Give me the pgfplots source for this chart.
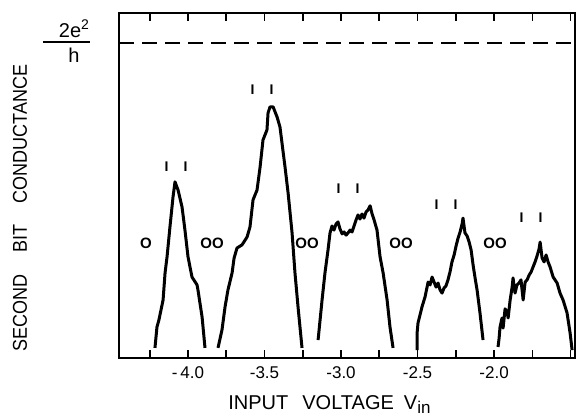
\documentclass[border=0pt]{standalone}
\usepackage{pgfplots}
\pgfplotsset{compat=1.18}
\usepackage{fontspec}
\usepackage{graphicx}
\setmainfont{Liberation Sans}
\begin{document}
\begin{tikzpicture}
\begin{axis}[
  at={(0,0)}, anchor=south west,
  scale only axis,
  width=228pt, height=172.5pt,
  xmin=-4.451, xmax=-1.471,
  ymin=0, ymax=1.095,
  axis line style={line width=1.2pt},
  ytick=\empty,
  xtick={-4,-3.5,-3,-2.5,-2},
  xticklabels={-\,4.0,-3.5,-3.0,-2.5,-2.0},
  minor xtick={-4.25,-3.75,-3.25,-2.75,-2.25,-1.75,-1.5},
  major tick length=4pt, minor tick length=4pt,
  tick style={line width=0.8pt, black},
  tick align=inside,
  xtick pos=both,
  x tick label style={font=\fontsize{8.5}{10}\selectfont, yshift=-1pt},
  clip=false,
]
\addplot[line width=1pt, dash pattern=on 7.5pt off 4pt] coordinates {(-4.451,1) (-1.471,1)};

% peak 1
\addplot[line width=1.5pt, line join=round] coordinates {
(-4.216,0.032) (-4.203,0.098) (-4.190,0.121) (-4.163,0.184) (-4.150,0.270)
(-4.137,0.321) (-4.118,0.416) (-4.098,0.511) (-4.085,0.559) (-4.065,0.533)
(-4.039,0.479) (-4.020,0.406) (-4.000,0.321) (-3.974,0.257) (-3.941,0.232)
(-3.935,0.216) (-3.908,0.130) (-3.889,0.032)};

% peak 2
\addplot[line width=1.5pt, line join=round] coordinates {
(-3.804,0.032) (-3.778,0.089) (-3.758,0.162) (-3.739,0.216) (-3.712,0.270)
(-3.699,0.317) (-3.680,0.349) (-3.647,0.359) (-3.614,0.384) (-3.595,0.416)
(-3.575,0.502) (-3.549,0.533) (-3.529,0.606) (-3.510,0.692) (-3.484,0.724)
(-3.477,0.778) (-3.464,0.797) (-3.444,0.797) (-3.418,0.765) (-3.399,0.733)
(-3.386,0.683) (-3.366,0.606) (-3.346,0.524) (-3.320,0.397) (-3.301,0.270)
(-3.281,0.162) (-3.255,0.032)};

% peak 3
\addplot[line width=1.5pt, line join=round] coordinates {
(-3.150,0.057) (-3.124,0.184) (-3.105,0.270) (-3.085,0.343) (-3.072,0.397)
(-3.059,0.419) (-3.046,0.406) (-3.033,0.425) (-3.020,0.432) (-3.007,0.410)
(-2.993,0.394) (-2.980,0.400) (-2.967,0.390) (-2.954,0.397) (-2.941,0.406)
(-2.928,0.400) (-2.915,0.419) (-2.902,0.438) (-2.889,0.454) (-2.876,0.441)
(-2.863,0.457) (-2.850,0.444) (-2.837,0.463) (-2.824,0.470) (-2.810,0.483)
(-2.797,0.457) (-2.784,0.438) (-2.765,0.406) (-2.745,0.321) (-2.725,0.270)
(-2.699,0.184) (-2.680,0.098) (-2.660,0.032)};

% peak 4
\addplot[line width=1.5pt, line join=round] coordinates {
(-2.503,0.025) (-2.503,0.079) (-2.497,0.111) (-2.471,0.162) (-2.451,0.194)
(-2.431,0.241) (-2.418,0.232) (-2.405,0.257) (-2.392,0.241) (-2.379,0.225)
(-2.366,0.238) (-2.353,0.216) (-2.340,0.206) (-2.327,0.222) (-2.314,0.229)
(-2.301,0.248) (-2.288,0.273) (-2.275,0.305) (-2.261,0.327) (-2.248,0.356)
(-2.235,0.381) (-2.222,0.400) (-2.209,0.425) (-2.203,0.444) (-2.190,0.397)
(-2.176,0.387) (-2.163,0.368) (-2.150,0.343) (-2.137,0.295) (-2.124,0.254)
(-2.111,0.216) (-2.092,0.143) (-2.072,0.057)};

% peak 5
\addplot[line width=1.5pt, line join=round] coordinates {
(-1.974,0.035) (-1.967,0.063) (-1.961,0.098) (-1.948,0.127) (-1.941,0.095)
(-1.928,0.156) (-1.915,0.146) (-1.908,0.127) (-1.895,0.184) (-1.882,0.225)
(-1.876,0.254) (-1.863,0.206) (-1.850,0.232) (-1.837,0.238) (-1.824,0.248)
(-1.810,0.184) (-1.797,0.241) (-1.784,0.248) (-1.771,0.263) (-1.758,0.273)
(-1.745,0.289) (-1.732,0.305) (-1.719,0.324) (-1.706,0.346) (-1.699,0.368)
(-1.686,0.317) (-1.673,0.305) (-1.660,0.327) (-1.647,0.305) (-1.634,0.289)
(-1.614,0.257) (-1.588,0.238) (-1.569,0.206) (-1.549,0.184) (-1.523,0.143)
(-1.503,0.079) (-1.490,0.025)};

% bit annotations
\tikzset{zero/.style={font=\bfseries\fontsize{7.5}{9}\selectfont, inner sep=0pt},
         one/.style={font=\bfseries\fontsize{7}{8}\selectfont, inner sep=0pt}}
\node[zero] at (axis cs:-4.275,0.365) {O};
\node[zero] at (axis cs:-3.843,0.365) {OO};
\node[zero] at (axis cs:-3.222,0.365) {OO};
\node[zero] at (axis cs:-2.608,0.365) {OO};
\node[zero] at (axis cs:-1.993,0.365) {OO};
\node[one] at (axis cs:-4.078,0.606) {I\hspace{7.5pt}I};
\node[one] at (axis cs:-3.516,0.851) {I\hspace{7.5pt}I};
\node[one] at (axis cs:-2.954,0.537) {I\hspace{7.5pt}I};
\node[one] at (axis cs:-2.314,0.486) {I\hspace{7.5pt}I};
\node[one] at (axis cs:-1.758,0.444) {I\hspace{7.5pt}I};
\end{axis}

% axis labels
\node[rotate=90, font=\fontsize{10}{11}\selectfont, inner sep=0pt] at (-49.5pt,75pt)
  {\scalebox{0.9}[1]{SECOND\hspace{12pt}BIT\hspace{12pt}CONDUCTANCE}};
\node[anchor=base west, font=\fontsize{10}{11}\selectfont, inner sep=0pt] at (54.5pt,-26pt)
  {INPUT\hspace{7pt}VOLTAGE\hspace{5pt}V\raisebox{-2pt}{\fontsize{8.5}{9}\selectfont in}};
% 2e^2/h
\node[anchor=base, font=\fontsize{10}{11}\selectfont, inner sep=0pt] at (-22.5pt,160pt)
  {2e\raisebox{4pt}{\fontsize{7}{8}\selectfont 2}};
\node[anchor=base, font=\fontsize{10}{11}\selectfont, inner sep=0pt] at (-22.5pt,147.5pt) {h};
\draw[line width=1pt] (-38pt,158pt) -- (-14.5pt,158pt);

\pgfresetboundingbox
\useasboundingbox (-59.5pt,-28.5pt) rectangle (228.5pt,179pt);
\end{tikzpicture}
\end{document}
